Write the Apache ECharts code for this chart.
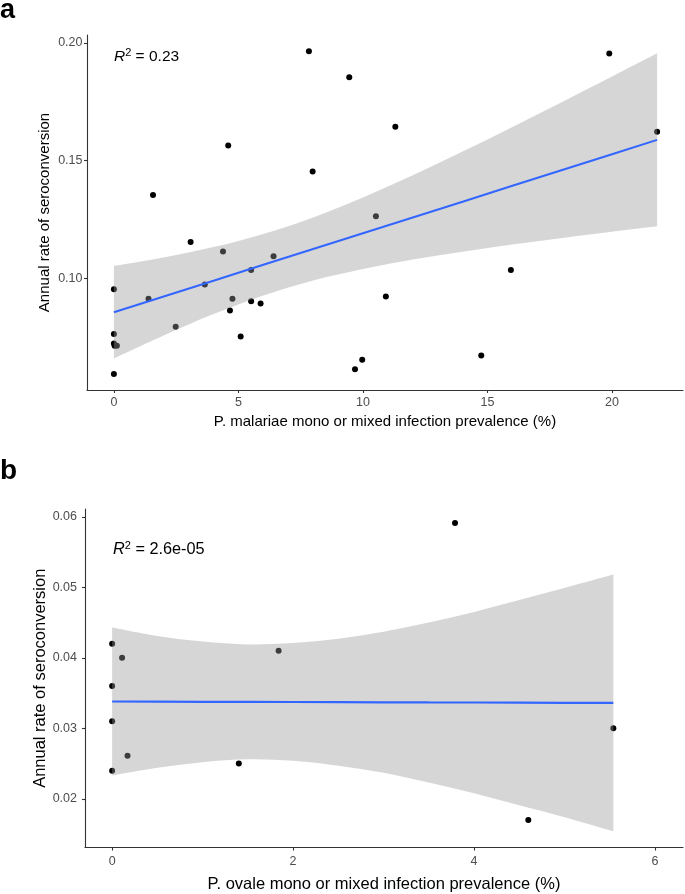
<!DOCTYPE html>
<html><head><meta charset="utf-8">
<script src="https://cdn.jsdelivr.net/npm/echarts@6/dist/echarts.min.js"></script>
<style>html,body{margin:0;padding:0;background:#fff}#c{width:685px;height:894px}</style>
</head><body><div id="c"></div>
<script>
// Panel a: P. malariae prevalence (%) vs annual rate of seroconversion
const aX=[7.83,9.45,4.59,7.98,1.57,3.08,4.38,6.41,5.51,3.65,0,1.39,4.76,5.51,5.89,4.66,2.48,0,5.09,0,0.03,0.12,0,19.89,11.30,21.81,10.52,15.94,10.92,9.97,9.68,14.75];
const aY=[0.1965,0.1854,0.1564,0.1453,0.1353,0.1153,0.1113,0.1093,0.1034,0.0973,0.0953,0.0912,0.0912,0.0902,0.0892,0.0862,0.0793,0.0762,0.0752,0.0722,0.0712,0.0712,0.0592,0.1955,0.1644,0.1623,0.1263,0.1034,0.0922,0.0653,0.0612,0.0671];
// fitted line and confidence band
const aFitX=[0,2,4,6,8,10,12,14,16,18,20,21.81];
const aFit=[0.0855,0.0922,0.0989,0.1057,0.1124,0.1191,0.1258,0.1325,0.1393,0.1460,0.1527,0.1588];
const aUpper=[0.1052,0.1088,0.1132,0.1188,0.1258,0.1343,0.1437,0.1538,0.1643,0.1749,0.1857,0.1956];
const aLower=[0.0658,0.0756,0.0847,0.0926,0.0990,0.1039,0.1079,0.1112,0.1143,0.1171,0.1197,0.1220];
const aXTicks=[0,5,10,15,20];
const aYTicks=[0.10,0.15,0.20];

// Panel b: P. ovale prevalence (%) vs annual rate of seroconversion
const bX=[0,0.11,0,0,0.17,0,1.40,1.84,3.79,5.54,4.60];
const bY=[0.0420,0.0400,0.0360,0.0310,0.0261,0.0240,0.0250,0.0410,0.0591,0.0300,0.0170];
const bFitX=[0,0.5,1,1.5,2,2.5,3,3.5,4,4.5,5,5.54];
const bFit=[0.03380,0.03378,0.03376,0.03375,0.03373,0.03371,0.03369,0.03367,0.03366,0.03364,0.03362,0.03360];
const bUpper=[0.0443,0.0431,0.0423,0.0419,0.0421,0.0427,0.0437,0.0450,0.0465,0.0482,0.0499,0.0518];
const bLower=[0.0233,0.0244,0.0252,0.0256,0.0254,0.0247,0.0237,0.0223,0.0208,0.0191,0.0174,0.0154];
const bXTicks=[0,2,4,6];
const bYTicks=[0.02,0.03,0.04,0.05,0.06];

const FONT='"Liberation Sans", Arial, sans-serif';
const zip=(xs,ys)=>xs.map((x,i)=>[x,ys[i]]);

function xAxis(grid,min,max,ticks,name,cfg){
  return {type:'value',gridIndex:grid,min:min,max:max,name:name,nameLocation:'middle',nameGap:cfg.nameGap,
    nameTextStyle:{color:'#000',fontSize:cfg.nameSize,fontFamily:FONT},
    splitLine:{show:false},
    axisLine:{show:true,onZero:false,lineStyle:{color:'#333',width:1.1}},
    axisTick:{show:true,length:3,customValues:ticks,lineStyle:{color:'#333',width:1.1}},
    axisLabel:{customValues:ticks,margin:cfg.margin,color:'#4d4d4d',fontSize:12.5,fontFamily:FONT,formatter:v=>String(Math.round(v))}};
}
function yAxis(grid,min,max,ticks,name,cfg){
  return {type:'value',gridIndex:grid,min:min,max:max,name:name,nameLocation:'middle',nameGap:cfg.nameGap,
    nameMoveOverlap:false,
    nameTextStyle:{color:'#000',fontSize:cfg.nameSize,fontFamily:FONT},
    splitLine:{show:false},
    axisLine:{show:true,onZero:false,lineStyle:{color:'#333',width:1.1}},
    axisTick:{show:true,length:3,customValues:ticks,lineStyle:{color:'#333',width:1.1}},
    axisLabel:{customValues:ticks,margin:cfg.margin,color:'#4d4d4d',fontSize:12.5,fontFamily:FONT,formatter:v=>v.toFixed(2)}};
}
// smooth curve (Catmull-Rom -> cubic Bezier) through pixel points
function curve(p,first){
  let d=first?('M'+p[0][0]+' '+p[0][1]):('L'+p[0][0]+' '+p[0][1]);
  for(let i=0;i<p.length-1;i++){
    const p0=p[Math.max(i-1,0)],p1=p[i],p2=p[i+1],p3=p[Math.min(i+2,p.length-1)];
    const c1=[p1[0]+(p2[0]-p0[0])/6,p1[1]+(p2[1]-p0[1])/6];
    const c2=[p2[0]-(p3[0]-p1[0])/6,p2[1]-(p3[1]-p1[1])/6];
    d+=' C'+c1[0]+' '+c1[1]+' '+c2[0]+' '+c2[1]+' '+p2[0]+' '+p2[1];
  }
  return d;
}
function band(grid,xs,lo,hi){
  return {type:'custom',xAxisIndex:grid,yAxisIndex:grid,z:3,silent:true,data:[[xs[0],lo[0]]],
    renderItem:function(params,api){
      const up=xs.map((x,i)=>api.coord([x,hi[i]]));
      const dn=xs.map((x,i)=>api.coord([x,lo[i]])).reverse();
      const d=curve(up,true)+' '+curve(dn,false)+' Z';
      return {type:'path',shape:{pathData:d},style:{fill:'#999999',opacity:0.4}};
    }};
}
function r2(left,top,val,size){
  return {type:'text',left:left,top:top,style:{text:'{r|R}{s|2}{n| = '+val+'}',rich:{
      r:{fontStyle:'italic',fontSize:size,lineHeight:size+2,fontFamily:FONT,fill:'#000'},
      s:{fontSize:Math.round(size*0.68),lineHeight:Math.round(size*0.68),verticalAlign:'top',fontFamily:FONT,fill:'#000'},
      n:{fontSize:size,lineHeight:size+2,fontFamily:FONT,fill:'#000'}}}};
}
const chart=echarts.init(document.getElementById('c'),null,{renderer:'canvas'});
chart.setOption({
  backgroundColor:'#fff',animation:false,
  grid:[{left:87,top:35,width:596,height:355},{left:85,top:509,width:598,height:341}],
  xAxis:[xAxis(0,-1.08,22.85,aXTicks,'P. malariae mono or mixed infection prevalence (%)',{nameGap:24.5,nameSize:15,margin:6}),
         xAxis(1,-0.30,6.31,bXTicks,'P. ovale mono or mixed infection prevalence (%)',{nameGap:28.5,nameSize:16.5,margin:8})],
  yAxis:[yAxis(0,0.0524,0.2034,aYTicks,'Annual rate of seroconversion',{nameGap:34.5,nameSize:15,margin:4.5}),
         yAxis(1,0.0131,0.0611,bYTicks,'Annual rate of seroconversion',{nameGap:36,nameSize:16.5,margin:8})],
  series:[
    {type:'scatter',xAxisIndex:0,yAxisIndex:0,z:2,data:zip(aX,aY),symbolSize:6,itemStyle:{color:'#000',opacity:1}},
    band(0,aFitX,aLower,aUpper),
    {type:'line',xAxisIndex:0,yAxisIndex:0,z:4,data:zip(aFitX,aFit),showSymbol:false,lineStyle:{color:'#3366FF',width:2}},
    {type:'scatter',xAxisIndex:1,yAxisIndex:1,z:2,data:zip(bX,bY),symbolSize:6,itemStyle:{color:'#000',opacity:1}},
    band(1,bFitX,bLower,bUpper),
    {type:'line',xAxisIndex:1,yAxisIndex:1,z:4,data:zip(bFitX,bFit),showSymbol:false,lineStyle:{color:'#3366FF',width:2.2}}
  ],
  graphic:[
    {type:'text',left:0,top:-3,style:{text:'a',font:'bold 27px '+FONT,fill:'#000'}},
    {type:'text',left:0,top:457,style:{text:'b',font:'bold 28px '+FONT,fill:'#000'}},
    r2(114,47.5,'0.23',15.5),
    r2(113,540.5,'2.6e-05',16.3)
  ]
});
</script></body></html>
